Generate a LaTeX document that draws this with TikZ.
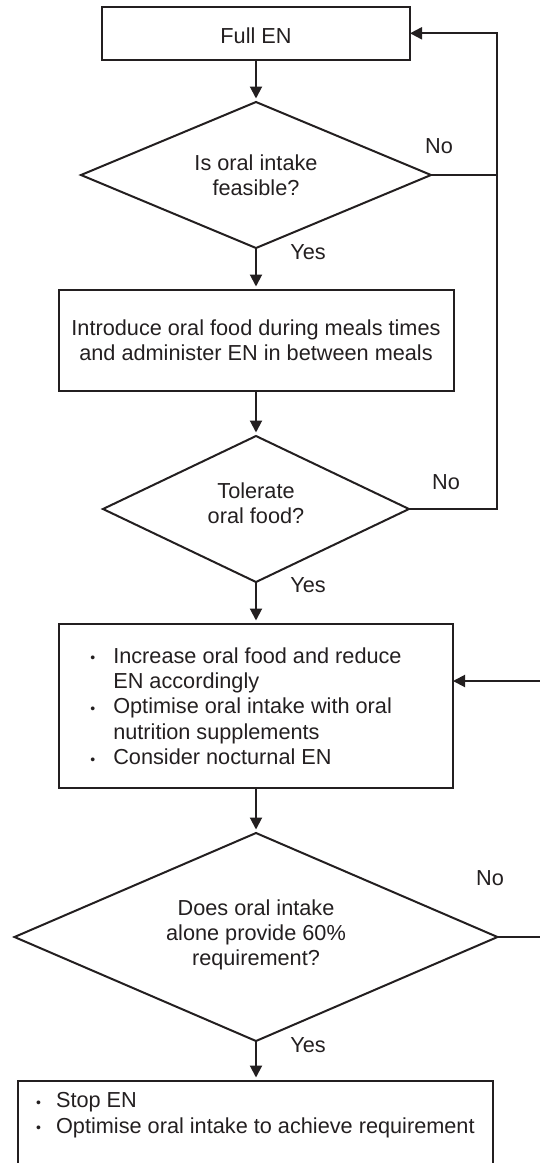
\documentclass[tikz,border=0pt]{standalone}
\usepackage{fontspec}
\setmainfont{Liberation Sans}
\usetikzlibrary{shapes.geometric,arrows.meta}
\definecolor{ink}{HTML}{231F20}

% small list bullet and list lines
\newcommand\bul{\raisebox{0.3pt}{\fontsize{14}{14}\selectfont\textbullet}}
\newcommand\itm[2]{\makebox[#1][l]{\bul}#2}
% centred block of lines whose box is padded below (#1) to lift the text
\newcommand\liftlines[3]{\raisebox{0pt}[#1][#2]{\begin{tabular}{@{}c@{}}#3\end{tabular}}}

\begin{document}
\begin{tikzpicture}[x=1pt,y=-1pt,
  every node/.style={font=\fontsize{21.7}{25.3}\selectfont, text=ink, outer sep=0pt},
  box/.style={draw=ink, line width=2pt, rectangle, inner sep=0pt},
  decision/.style={draw=ink, line width=2pt, diamond, inner sep=0pt, align=center},
  flow/.style={draw=ink, line width=2pt, -{Triangle[length=12pt,width=12pt]}},
  down/.style={flow, shorten >=3.5pt},
  wire/.style={draw=ink, line width=2pt},
  tag/.style={inner sep=0pt}]

\useasboundingbox (0,0) rectangle (540,1163);
\clip (0,0) rectangle (540,1163);

% process boxes and decisions
\node[box, minimum width=308pt, minimum height=53.3pt] (full) at (256,33.3)
  {\raisebox{0pt}[21pt][0pt]{Full EN}};

\node[decision, minimum width=350pt, minimum height=146pt, shape aspect=2.4]
  (feasible) at (256,175) {Is oral intake\\feasible?};

\node[box, minimum width=395pt, minimum height=101pt, align=center]
  (introduce) at (256,340.5)
  {Introduce oral food during meals times\\and administer EN in between meals};

\node[decision, minimum width=306pt, minimum height=146pt, shape aspect=2.1]
  (tolerate) at (256,509) {\liftlines{30.7pt}{26.9pt}{Tolerate\\oral food?}};

\node[box, minimum width=394pt, minimum height=164pt] (increase) at (256,706)
  {\begin{minipage}{394pt}\raggedright\setlength{\leftskip}{31.5pt}%
   \itm{22.8pt}{Increase oral food and reduce}\\
   \hspace*{22.8pt}EN accordingly\\
   \itm{22.8pt}{Optimise oral intake with oral}\\
   \hspace*{22.8pt}nutrition supplements\\
   \itm{22.8pt}{Consider nocturnal EN}
   \end{minipage}};

\node[decision, minimum width=483pt, minimum height=208pt, shape aspect=2.3]
  (sixty) at (256,937)
  {\liftlines{43.4pt}{36.4pt}{Does oral intake\\alone provide 60\%\\requirement?}};

\node[box, minimum width=475pt, minimum height=120pt] (stop) at (255.5,1141)
  {\begin{minipage}[c][120pt][t]{475pt}\raggedright\setlength{\leftskip}{18pt}%
   \vspace*{11.8pt}%
   \itm{20.1pt}{Stop EN}\\
   \itm{20.1pt}{Optimise oral intake to achieve requirement}
   \end{minipage}};

% branch labels
\node[tag] (no1)  at (439,146)  {No};
\node[tag] (yes1) at (308,252)  {Yes};
\node[tag] (no2)  at (446,482)  {No};
\node[tag] (yes2) at (308,585)  {Yes};
\node[tag] (no3)  at (490,878)  {No};
\node[tag] (yes3) at (308,1045) {Yes};

% return rails
\coordinate (rail) at (497,0);
\coordinate (back) at (580,681);

% main flow
\draw[down] (full.south) -- (feasible.north);
\draw[down] (feasible.south) -- (introduce.north);
\draw[down] (introduce.south) -- (tolerate.north);
\draw[down] (tolerate.south) -- (increase.north);
\draw[down] (increase.south) -- (sixty.north);
\draw[down] (sixty.south) -- (sixty.south |- stop.north);

% "No" branches
\draw[flow] (feasible.east) -- (feasible.east -| rail) |- (full.east);
\draw[wire] (tolerate.east) -| (feasible.east -| rail);
\draw[flow] (sixty.east) -| (back) -- (back -| increase.east);
\end{tikzpicture}
\end{document}
